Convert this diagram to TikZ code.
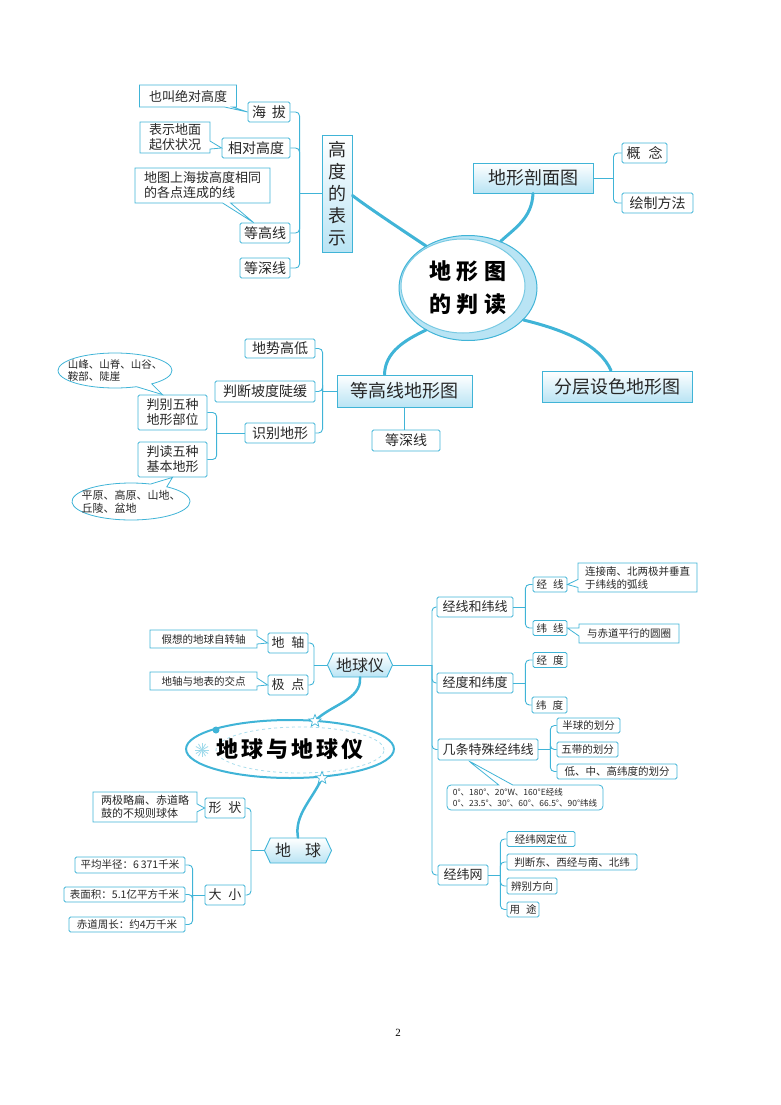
\documentclass[tikz,border=0pt]{standalone}
\usepackage{fontspec}
\setmainfont{Noto Sans CJK SC}
\newfontfamily\numfont{Liberation Serif}
\usetikzlibrary{shapes.geometric,shapes.callouts,shapes.symbols,calc}
\definecolor{mapline}{RGB}{64,180,215}
\definecolor{mapfill}{RGB}{185,228,244}
\definecolor{maptext}{RGB}{40,40,40}
\tikzset{
  leaf/.style={draw=mapline, line width=0.8pt, fill=white, rounded corners=1.5pt, inner sep=1pt, text=maptext, font=\fontsize{14}{16}\selectfont},
  mid/.style={leaf, font=\fontsize{13}{15}\selectfont},
  twig/.style={leaf, minimum height=15pt, font=\fontsize{10.5}{12}\selectfont},
  note/.style={rectangle callout, callout pointer width=8pt, draw=mapline, line width=0.8pt, fill=white, inner sep=2pt, align=left, text=maptext, font=\fontsize{13}{15}\selectfont},
  bubble/.style={ellipse callout, callout pointer arc=18, draw=mapline, line width=0.8pt, fill=white, inner xsep=-9pt, inner ysep=-2pt, align=left, text=maptext},
  head/.style={draw=mapline, line width=0.9pt, top color=white, bottom color=mapfill, inner sep=2pt, text=maptext, font=\fontsize{18}{22}\selectfont},
  hexa/.style={signal, signal to=west and east, signal pointer angle=130, draw=mapline, line width=0.9pt, top color=white, bottom color=mapfill, inner sep=2pt, text=maptext, font=\fontsize{16}{18}\selectfont},
  branch/.style={draw=mapline, line width=0.9pt, rounded corners=4pt},
  trunk/.style={draw=mapline, line width=3pt, line cap=round},
}
\begin{document}
\begin{tikzpicture}[x=1pt,y=-1pt]
\useasboundingbox (0,0) rectangle (780,1105);

% 地形图的判读
\node[ellipse, draw=mapline, line width=1pt, fill=mapfill, minimum width=138pt, minimum height=105pt, inner sep=0pt, align=center, text=black, font=\fontsize{22}{33}\selectfont\bfseries,
  path picture={\draw[mapline!70, fill=white] ($(path picture bounding box.center)+(-5pt,2pt)$) ellipse [x radius=62pt, y radius=47pt];}] (dixing) at (468,288) {地\hspace{6pt}形\hspace{6pt}图\\的\hspace{6pt}判\hspace{6pt}读};

\node[head, minimum width=30pt, minimum height=117pt, align=center, inner sep=1pt] (gaodu) at (337,193.5) {高\\度\\的\\表\\示};
\node[leaf, minimum width=42pt, minimum height=20pt] (haiba) at (269,112) {海\hspace{6pt}拔};
\node[leaf, minimum width=68pt, minimum height=20pt] (xiangdui) at (256,148) {相对高度};
\node[leaf, minimum width=50pt, minimum height=20pt] (dengao) at (265,233) {等高线};
\node[leaf, minimum width=50pt, minimum height=20pt] (dengshen) at (265,268) {等深线};
\node[note, minimum width=97pt, minimum height=22pt, callout absolute pointer={(haiba.west)}] (juedui) at (188,96) {也叫绝对高度};
\node[note, minimum width=70pt, minimum height=31pt, callout absolute pointer={(xiangdui.west)}] (qifu) at (175,137.5) {表示地面\\起伏状况};
\node[note, minimum width=135pt, minimum height=35pt, callout absolute pointer={($(dengao.north west)+(14,0)$)}] (dengaodef) at (202.5,185.5) {地图上海拔高度相同\\的各点连成的线};
\draw[branch] (gaodu.west) -- ++(-22,0) coordinate (gdj);
\foreach \n in {haiba,xiangdui,dengao,dengshen} \draw[branch] (gdj) |- (\n.east);

\node[head, minimum width=120pt, minimum height=30pt] (poumian) at (533,178) {地形剖面图};
\node[leaf, minimum width=45pt, minimum height=20pt] (gainian) at (644.5,153) {概\hspace{8pt}念};
\node[leaf, minimum width=71pt, minimum height=20pt] (huizhi) at (657.5,203) {绘制方法};
\draw[branch] (poumian.east) -- ++(20,0) coordinate (pmj);
\foreach \n in {gainian,huizhi} \draw[branch] (pmj) |- (\n.west);

\node[head, minimum width=135pt, minimum height=32pt] (denggaoxian) at (404.5,391) {等高线地形图};
\node[head, minimum width=150pt, minimum height=31pt] (fenceng) at (617,386.5) {分层设色地形图};
\node[leaf, minimum width=68pt, minimum height=21pt] (dengshenB) at (406,440.5) {等深线};
\draw[branch] (denggaoxian.south) -- (denggaoxian.south |- dengshenB.north);

\node[leaf, minimum width=70pt, minimum height=19pt] (dishi) at (280,348.5) {地势高低};
\node[leaf, minimum width=100pt, minimum height=21pt] (podu) at (265,391.5) {判断坡度陡缓};
\node[leaf, minimum width=70pt, minimum height=20pt] (shibie) at (280,433) {识别地形};
\draw[branch] (denggaoxian.west) -- ++(-14,0) coordinate (dgj);
\foreach \n in {dishi,podu,shibie} \draw[branch] (dgj) |- (\n.east);

\node[mid, minimum width=69pt, minimum height=35pt, align=center] (buwei) at (172.5,412.5) {判别五种\\地形部位};
\node[mid, minimum width=69pt, minimum height=35pt, align=center] (jiben) at (172.5,459.5) {判读五种\\基本地形};
\draw[branch] (shibie.west) -- ++(-28,0) coordinate (sbj);
\foreach \n in {buwei,jiben} \draw[branch] (sbj) |- (\n.east);
\node[bubble, font=\fontsize{10.5}{12}\selectfont, minimum width=114pt, minimum height=35pt, callout absolute pointer={($(buwei.north)+(-10,0)$)}] (buweidef) at (115,370.5) {山峰、山脊、山谷、\\鞍部、陡崖};
\node[bubble, font=\fontsize{11}{13}\selectfont, minimum width=118pt, minimum height=37pt, callout absolute pointer={(jiben.south)}] (jibendef) at (131,501.5) {平原、高原、山地、\\丘陵、盆地};

\draw[trunk] ($(gaodu.east)+(0,2)$) .. controls (366,206) and (396,226) .. (dixing.135);
\draw[trunk] (poumian.south) .. controls (532,218) and (515,228) .. (dixing.55);
\draw[trunk] (dixing.225) .. controls (405,340) and (385,352) .. ($(denggaoxian.north)+(-20,0)$);
\draw[trunk] (dixing.-30) .. controls (565,330) and (600,345) .. ($(fenceng.north)+(-6,0)$);

% 地球与地球仪
\node[ellipse, draw=mapline, line width=2pt, fill=white, minimum width=206pt, minimum height=58pt, inner sep=0pt, text=black, font=\fontsize{22}{26}\selectfont\bfseries,
  path picture={\draw[mapline!45, dashed, line width=0.8pt] ($(path picture bounding box.center)+(10pt,-1pt)$) ellipse [x radius=84pt, y radius=23pt];}] (earth) at (290,749) {地\hspace{3pt}球\hspace{3pt}与\hspace{3pt}地\hspace{3pt}球\hspace{3pt}仪};
\node[circle, fill=mapline, minimum size=7pt, inner sep=0pt] (dot) at (216,730) {};
\coordinate (flake) at (202,750);
\foreach \a in {0,30,...,150} \draw[mapline!50, line width=0.8pt] ($(flake)+(\a:7pt)$) -- ($(flake)+(\a+180:7pt)$);

\node[hexa, minimum width=65pt, minimum height=24pt] (yi) at (360,665) {地球仪};
\node[hexa, minimum width=67pt, minimum height=25pt] (diqiu) at (298,850.5) {地\hspace{14pt}球};
\draw[trunk, line width=2.5pt] (yi.south) .. controls (362,700) and (330,705) .. (315,721);
\draw[trunk, line width=2.5pt] (322,778) .. controls (312,800) and (294,815) .. (diqiu.north);
\node[star, star points=5, star point ratio=2.3, draw=mapline, fill=white, line width=0.7pt, minimum size=13pt, inner sep=0pt] (starA) at (315,721) {};
\node[star, star points=5, star point ratio=2.3, draw=mapline, fill=white, line width=0.7pt, minimum size=13pt, inner sep=0pt] (starB) at (322,778) {};

\node[mid, minimum width=40pt, minimum height=20pt] (dizhou) at (288,643) {地\hspace{7pt}轴};
\node[mid, minimum width=40pt, minimum height=20pt] (jidian) at (288,685) {极\hspace{7pt}点};
\draw[branch] (yi.west) -- ++(-13,0) coordinate (yij);
\foreach \n in {dizhou,jidian} \draw[branch] (yij) |- (\n.east);
\node[note, font=\fontsize{10.5}{12}\selectfont, minimum width=107pt, minimum height=18pt, callout absolute pointer={(dizhou.west)}] (zizhuan) at (203.5,639) {假想的地球自转轴};
\node[note, font=\fontsize{10.5}{12}\selectfont, minimum width=107pt, minimum height=18pt, callout absolute pointer={(jidian.west)}] (jiaodian) at (203.5,681) {地轴与地表的交点};

\node[mid, minimum width=40pt, minimum height=20pt] (xingzhuang) at (225,808) {形\hspace{7pt}状};
\node[mid, minimum width=40pt, minimum height=20pt] (daxiao) at (225,895) {大\hspace{7pt}小};
\draw[branch] (diqiu.west) -- ++(-13,0) coordinate (dqj);
\foreach \n in {xingzhuang,daxiao} \draw[branch] (dqj) |- (\n.east);
\node[note, font=\fontsize{11}{13}\selectfont, minimum width=104pt, minimum height=30pt, callout absolute pointer={(xingzhuang.west)}] (qiuti) at (145,807) {两极略扁、赤道略\\鼓的不规则球体};
\node[twig, minimum width=110pt, minimum height=16pt] (banjing) at (130,865) {平均半径：6\,371千米};
\node[twig, minimum width=121pt] (mianji) at (124.5,894.5) {表面积：5.1亿平方千米};
\node[twig, minimum width=116pt] (zhouchang) at (127,924.5) {赤道周长：约4万千米};
\draw[branch] (daxiao.west) -- ++(-12,0) coordinate (dxj);
\foreach \n in {banjing,mianji,zhouchang} \draw[branch] (dxj) |- (\n.east);

\node[mid, minimum width=76pt, minimum height=20pt] (jwx) at (475,607) {经线和纬线};
\node[mid, minimum width=76pt, minimum height=20pt] (jdwd) at (475,683) {经度和纬度};
\node[mid, minimum width=100pt, minimum height=21pt] (tsjwx) at (488,749.5) {几条特殊经纬线};
\node[mid, minimum width=50pt, minimum height=20pt] (jww) at (463,875) {经纬网};
\draw[branch] (yi.east) -- (432,665) coordinate (spj);
\foreach \n in {jwx,jdwd,tsjwx,jww} \draw[branch] (spj) |- (\n.west);

\node[twig, minimum width=34pt] (jingxian) at (550,584.5) {经\hspace{6pt}线};
\node[twig, minimum width=34pt] (weixian) at (550,628) {纬\hspace{6pt}线};
\draw[branch] (jwx.east) -- ++(12,0) coordinate (jwxj);
\foreach \n in {jingxian,weixian} \draw[branch] (jwxj) |- (\n.west);
\node[note, font=\fontsize{10.5}{13}\selectfont, minimum width=119pt, minimum height=29pt, callout absolute pointer={(jingxian.east)}] (jxdef) at (637.5,577.5) {连接南、北两极并垂直\\于纬线的弧线};
\node[note, font=\fontsize{10.5}{12}\selectfont, minimum width=100pt, minimum height=19pt, callout absolute pointer={(weixian.east)}] (wxdef) at (629,633.5) {与赤道平行的圆圈};

\node[twig, minimum width=34pt] (jingdu) at (550,660) {经\hspace{6pt}度};
\node[twig, minimum width=35pt, minimum height=16pt] (weidu) at (549.5,705) {纬\hspace{6pt}度};
\draw[branch] (jdwd.east) -- ++(12,0) coordinate (jdj);
\foreach \n in {jingdu,weidu} \draw[branch] (jdj) |- (\n.west);

\node[twig, minimum width=63pt] (banqiu) at (588.5,725.5) {半球的划分};
\node[twig, minimum width=61pt] (wudai) at (587.5,749.5) {五带的划分};
\node[twig, minimum width=120pt] (diwei) at (617,771.5) {低、中、高纬度的划分};
\draw[branch] (tsjwx.east) -- ++(12,0) coordinate (tsj);
\foreach \n in {banqiu,wudai,diwei} \draw[branch] (tsj) |- (\n.west);
\node[note, rounded corners=4pt, callout pointer width=14pt, font=\fontsize{8.5}{11}\selectfont, minimum width=156pt, minimum height=25pt, callout absolute pointer={($(tsjwx.south)+(-20,0)$)}] (tsdef) at (525,797.5) {0°、180°、20°W、160°E经线\\0°、23.5°、30°、60°、66.5°、90°纬线};

\node[twig, minimum width=68pt] (dingwei) at (541,839) {经纬网定位};
\node[twig, minimum width=130pt, minimum height=16pt] (panduan) at (572,862) {判断东、西经与南、北纬};
\node[twig, minimum width=50pt, minimum height=16pt] (bianbie) at (532,886) {辨别方向};
\node[twig, minimum width=32pt] (yongtu) at (523,909.5) {用\hspace{6pt}途};
\draw[branch] (jww.east) -- ++(12,0) coordinate (jwwj);
\foreach \n in {dingwei,panduan,bianbie,yongtu} \draw[branch] (jwwj) |- (\n.west);

\node[font=\numfont\fontsize{11}{13}\selectfont] (pagenum) at (398,1033) {2};
\end{tikzpicture}
\end{document}
